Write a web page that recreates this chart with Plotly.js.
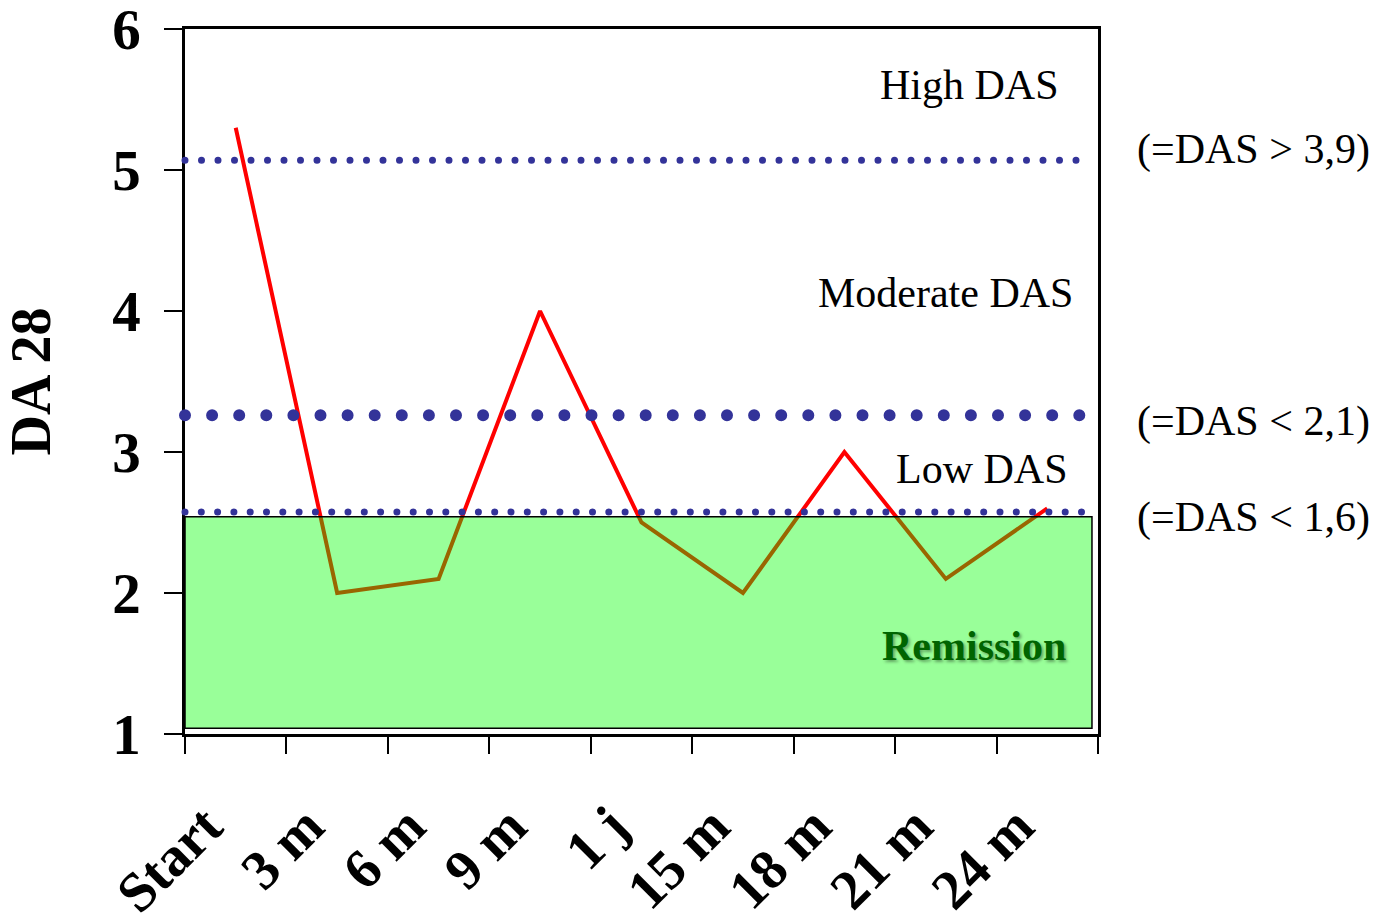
<!DOCTYPE html>
<html>
<head>
<meta charset="utf-8">
<script src="https://cdn.plot.ly/plotly-3.0.1.min.js"></script>
<style>
  html, body { margin: 0; padding: 0; background: #fff; }
  #chart { width: 1379px; height: 913px; }
  .shapelayer path { stroke-linecap: round; }
</style>
</head>
<body>
<div id="chart"></div>
<script>
// ---- data ----
const categories = ["Start", "3 m", "6 m", "9 m", "1 j", "15 m", "18 m", "21 m", "24 m"];
const das28 = [5.3, 2.0, 2.1, 4.0, 2.5, 2.0, 3.0, 2.1, 2.6];

// threshold lines (in DAS 28 axis units) and remission zone
const highThreshold = 5.07;
const moderateThreshold = 3.26;
const lowThreshold = 2.575;
const remissionTop = 2.54;
const remissionBottom = 1.04;

const zoneLabels = ["High DAS", "Moderate DAS", "Low DAS"];
const zoneLabelY = [5.60, 4.13, 2.88];
const zoneLabelX = [0.96, 0.9746, 0.969];
const remissionLabel = "Remission";
const remissionLabelY = 1.625;
const sideLabels = ["(=DAS > 3,9)", "(=DAS < 2,1)", "(=DAS < 1,6)"];
const sideLabelY = [5.145, 3.215, 2.535];

const serif = "Liberation Serif, Times New Roman, serif";

const trace = {
  x: categories,
  y: das28,
  type: "scatter",
  mode: "lines",
  line: { color: "#ff0000", width: 4 },
  hoverinfo: "x+y",
  showlegend: false
};

const shapes = [
  {
    type: "rect", layer: "above",
    xref: "paper", yref: "y",
    x0: 0, x1: 0.9934, y0: remissionBottom, y1: remissionTop,
    fillcolor: "rgba(0,255,0,0.4)",
    line: { color: "#000000", width: 1.5 }
  },
  {
    type: "line", layer: "above", xref: "paper", yref: "y",
    x0: 0, x1: 0.992, y0: highThreshold, y1: highThreshold,
    line: { color: "#333399", width: 7, dash: "0px,16.5px" }
  },
  {
    type: "line", layer: "above", xref: "paper", yref: "y",
    x0: 0, x1: 0.992, y0: moderateThreshold, y1: moderateThreshold,
    line: { color: "#333399", width: 12, dash: "0px,27.1px" }
  },
  {
    type: "line", layer: "above", xref: "paper", yref: "y",
    x0: 0, x1: 0.992, y0: lowThreshold, y1: lowThreshold,
    line: { color: "#333399", width: 7, dash: "0px,16.3px" }
  }
];

const annotations = [];
zoneLabels.forEach((t, i) => {
  annotations.push({
    text: t, xref: "paper", yref: "y", x: zoneLabelX[i], y: zoneLabelY[i],
    xanchor: "right", yanchor: "middle", showarrow: false,
    font: { family: serif, size: 42, color: "#000000" }
  });
});
annotations.push({
  text: remissionLabel, xref: "paper", yref: "y", x: 0.967, y: remissionLabelY,
  xanchor: "right", yanchor: "middle", showarrow: false,
  font: { family: serif, size: 42, color: "#006400", weight: "bold",
          shadow: "2px 2px 3px rgba(0,0,0,0.35)" }
});
sideLabels.forEach((t, i) => {
  annotations.push({
    text: t, xref: "paper", yref: "y", x: 1.041, y: sideLabelY[i],
    xanchor: "left", yanchor: "middle", showarrow: false,
    font: { family: serif, size: 42, color: "#000000" }
  });
});

const layout = {
  width: 1379, height: 913,
  margin: { l: 185, r: 281, t: 29, b: 179, pad: 0 },
  paper_bgcolor: "#ffffff",
  plot_bgcolor: "#ffffff",
  font: { family: serif, color: "#000000" },
  xaxis: {
    type: "category",
    range: [-0.5, 8.5],
    tickson: "boundaries",
    ticks: "outside", ticklen: 17, tickwidth: 2, tickcolor: "#000",
    showline: true, linecolor: "#000", linewidth: 2.5, mirror: true,
    showgrid: false, zeroline: false,
    tickangle: -45,
    ticklabelstandoff: 34,
    ticklabelshift: -30,
    ticklabeloverflow: "allow",
    tickfont: { family: serif, size: 56, weight: "bold", color: "#000" },
    automargin: false
  },
  yaxis: {
    range: [1, 6],
    dtick: 1, tick0: 1,
    ticks: "outside", ticklen: 18, tickwidth: 2, tickcolor: "#000",
    showline: true, linecolor: "#000", linewidth: 2.5, mirror: true,
    showgrid: false, zeroline: false,
    tickfont: { family: serif, size: 57, weight: "bold", color: "#000" },
    ticklabelstandoff: 12,
    ticklabeloverflow: "allow",
    title: { text: "DA 28", font: { family: serif, size: 56, weight: "bold", color: "#000" }, standoff: 52 },
    automargin: false
  },
  shapes: shapes,
  annotations: annotations
};

Plotly.newPlot("chart", [trace], layout, { displayModeBar: false, responsive: false });
</script>
</body>
</html>
